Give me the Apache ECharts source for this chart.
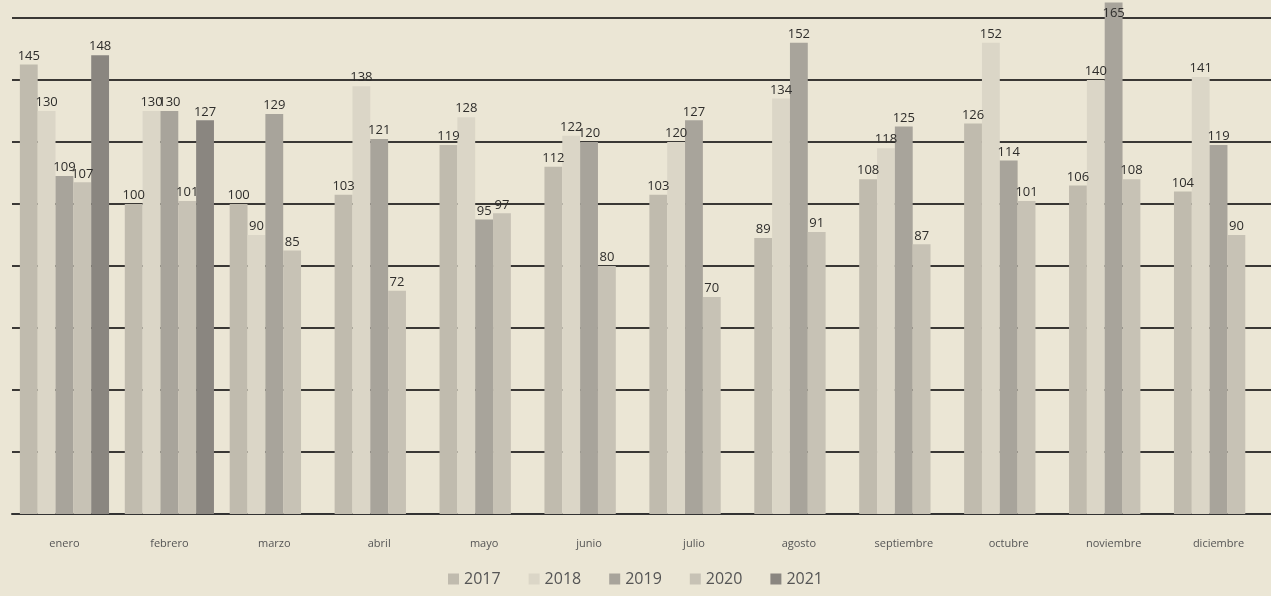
<!DOCTYPE html>
<html>
<head>
<meta charset="utf-8">
<script src="https://cdn.jsdelivr.net/npm/echarts@6/dist/echarts.min.js"></script>
<style>
  html, body { margin: 0; padding: 0; background: #ebe6d5; }
  #chart { width: 1271px; height: 596px; }
</style>
</head>
<body>
<div id="chart"></div>
<script>
const months = ["enero", "febrero", "marzo", "abril", "mayo", "junio", "julio",
    "agosto", "septiembre", "octubre", "noviembre", "diciembre"];
const years = ["2017", "2018", "2019", "2020", "2021"];

const values2017 = [145, 100, 100, 103, 119, 112, 103, 89, 108, 126, 106, 104];
const values2018 = [130, 130, 90, 138, 128, 122, 120, 134, 118, 152, 140, 141];
const values2019 = [109, 130, 129, 121, 95, 120, 127, 152, 125, 114, 165, 119];
const values2020 = [107, 101, 85, 72, 97, 80, 70, 91, 87, 101, 108, 90];
const values2021 = [148, 127, null, null, null, null, null, null, null, null, null, null];

const colors = ["#c0bbae", "#dbd6c7", "#a8a49b", "#c7c2b5", "#8a8680"];
const seriesData = [values2017, values2018, values2019, values2020, values2021];
const AXIS_MAX = 160;

const chart = echarts.init(document.getElementById("chart"));

// bars taller than the axis keep their label inside the top of the bar
const toPoints = data => data.map(v =>
    v !== null && v > AXIS_MAX ? { value: v, label: { position: "insideTop", distance: 4 } } : v
);

chart.setOption({
    backgroundColor: "#ebe6d5",
    animation: false,
    color: colors,
    grid: { left: 12, right: 0, top: 18, bottom: 82 },
    legend: {
        bottom: 4,
        left: "center",
        itemWidth: 11,
        itemHeight: 11,
        itemGap: 28,
        icon: "rect",
        textStyle: { color: "#555", fontSize: 16, fontFamily: "Open Sans" }
    },
    xAxis: {
        type: "category",
        data: months,
        axisLine: { lineStyle: { color: "#333", width: 2 } },
        axisTick: { show: false },
        axisLabel: { color: "#555", fontSize: 11, margin: 24, fontFamily: "Open Sans" }
    },
    yAxis: {
        type: "value",
        min: 0,
        max: AXIS_MAX,
        interval: 20,
        axisLine: { show: false },
        axisTick: { show: false },
        axisLabel: { show: false },
        splitLine: { lineStyle: { color: "#3a3835", width: 2 } }
    },
    series: seriesData.map((data, i) => ({
        name: years[i],
        type: "bar",
        data: toPoints(data),
        clip: false,
        barGap: "0%",
        barCategoryGap: "15%",
        label: {
            show: true,
            position: "top",
            distance: 2,
            color: "#2e2d2b",
            fontSize: 13,
            fontFamily: "Open Sans"
        }
    }))
});
</script>
</body>
</html>
